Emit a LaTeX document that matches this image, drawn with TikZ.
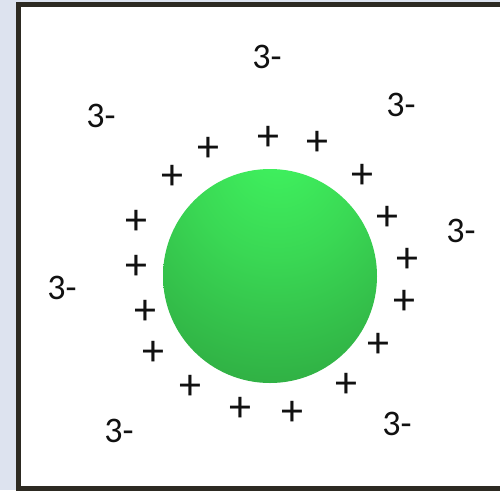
\documentclass[tikz,border=0pt]{standalone}
\usepackage{fontspec}
\setmainfont{Carlito}
\definecolor{bgside}{HTML}{DDE3EF}
\definecolor{framec}{HTML}{2D2A22}
\definecolor{ink}{HTML}{111111}
\pgfdeclareradialshading{spheregreen}{\pgfpoint{2bp}{32bp}}{%
  color(0bp)=(rgb,255:red,64;green,246;blue,96);
  color(20bp)=(rgb,255:red,58;green,216;blue,84);
  color(42bp)=(rgb,255:red,48;green,176;blue,68);
  color(62bp)=(rgb,255:red,34;green,136;blue,52);
  color(84bp)=(rgb,255:red,28;green,116;blue,42)}
\begin{document}
\begin{tikzpicture}[x=1pt,y=-1pt,
  charge/.style={font=\fontsize{36}{36}\selectfont, text=ink, inner sep=0pt},
  plusmark/.style={font=\fontsize{44}{44}\selectfont, text=ink, inner sep=0pt}]
\useasboundingbox (0,0) rectangle (500,490);
\fill[bgside] (0,0) rectangle (500,490);
\fill[white] (18,4.5) rectangle (500,488);
\draw[framec, line width=5pt] (504,4.5) -- (18,4.5) -- (18,488) -- (504,488);
\shade[shading=spheregreen] (270,276) circle (107);
% anions
\node[charge] (a1) at (267,57) {3-};
\node[charge] (a2) at (101,116) {3-};
\node[charge] (a3) at (401,105) {3-};
\node[charge] (a4) at (461,231) {3-};
\node[charge] (a5) at (62,288) {3-};
\node[charge] (a6) at (119,431) {3-};
\node[charge] (a7) at (397,424) {3-};
% cations
\node[plusmark] (p1) at (268,138) {+};
\node[plusmark] (p2) at (317,143) {+};
\node[plusmark] (p3) at (208,149) {+};
\node[plusmark] (p4) at (172,177) {+};
\node[plusmark] (p5) at (362,176) {+};
\node[plusmark] (p6) at (136,222) {+};
\node[plusmark] (p7) at (387,218) {+};
\node[plusmark] (p8) at (136,267) {+};
\node[plusmark] (p9) at (407,260) {+};
\node[plusmark] (p10) at (145,312) {+};
\node[plusmark] (p11) at (404,302) {+};
\node[plusmark] (p12) at (153,353) {+};
\node[plusmark] (p13) at (378,345) {+};
\node[plusmark] (p14) at (190,387) {+};
\node[plusmark] (p15) at (346,385) {+};
\node[plusmark] (p16) at (240,409) {+};
\node[plusmark] (p17) at (292,413) {+};
\end{tikzpicture}
\end{document}
